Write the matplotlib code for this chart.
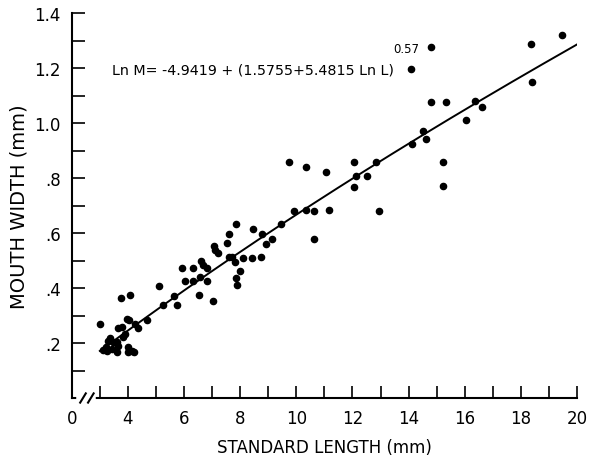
import matplotlib.pyplot as plt
import numpy as np

# standard length (mm) vs mouth width (mm)
length = [3.00, 3.75, 4.07, 3.96, 4.03, 3.64, 3.78, 4.35, 4.25, 4.67,
          3.35, 3.46, 3.60, 3.64, 3.21, 3.10, 3.43, 3.28, 4.00, 4.14,
          4.21, 3.82, 3.89, 3.25, 3.60, 4.00,
          5.10, 5.24, 5.64, 5.74, 5.92, 6.03, 6.31, 6.31, 6.53, 6.60,
          6.67, 6.81, 6.56, 6.81, 7.02, 7.06, 7.10, 7.20, 7.52, 7.60,
          7.60, 7.84, 7.84, 7.88, 7.99, 7.70, 7.81, 8.09, 8.41, 8.74,
          8.45, 8.77, 8.91, 9.13, 9.45, 9.91, 10.34, 10.62, 11.16, 10.62,
          12.94, 9.73, 10.34, 11.05, 12.05, 12.83, 12.12, 12.51, 12.05,
          14.79, 14.08, 18.36, 19.46, 18.39, 14.79, 15.33, 16.36, 16.61,
          16.04, 14.51, 14.62, 14.12, 15.22, 15.22]
width = [0.271, 0.363, 0.374, 0.286, 0.282, 0.256, 0.260, 0.256, 0.271, 0.282,
         0.220, 0.205, 0.205, 0.190, 0.187, 0.176, 0.179, 0.209, 0.187, 0.172,
         0.168, 0.223, 0.234, 0.172, 0.168, 0.168,
         0.407, 0.337, 0.370, 0.337, 0.473, 0.425, 0.473, 0.425, 0.374, 0.498,
         0.484, 0.473, 0.440, 0.425, 0.352, 0.553, 0.538, 0.527, 0.564, 0.597,
         0.513, 0.634, 0.436, 0.410, 0.462, 0.513, 0.495, 0.509, 0.509, 0.513,
         0.615, 0.597, 0.560, 0.579, 0.634, 0.681, 0.685, 0.681, 0.685, 0.579,
         0.681, 0.857, 0.839, 0.821, 0.857, 0.857, 0.806, 0.806, 0.769,
         1.278, 1.198, 1.286, 1.319, 1.150, 1.077, 1.077, 1.081, 1.059,
         1.011, 0.971, 0.941, 0.923, 0.857, 0.773]

# fitted curve: Ln M = a + (b + c Ln L)^p
a, b, c, p = -4.9419, 1.5755, 5.4815, 0.57
L = np.linspace(3, 20, 200)
M = np.exp(a + (b + c * np.log(L)) ** p)

fig = plt.figure(figsize=(5.93, 4.56), dpi=100)
ax = fig.add_axes([0.121, 0.125, 0.852, 0.844])

ax.scatter(length, width, s=20, color="black", zorder=3)
ax.plot(L, M, color="black", lw=1.4)

ax.set_xlim(2, 20)
ax.set_ylim(0, 1.4)
ax.spines["top"].set_visible(False)
ax.spines["right"].set_visible(False)
ax.spines["left"].set_linewidth(1.5)
ax.spines["bottom"].set_linewidth(1.5)

xt = [2] + list(range(3, 21))
ax.set_xticks(xt)
ax.set_xticklabels(["0"] + [str(v) if v % 2 == 0 else "" for v in range(3, 21)])
yt = np.round(np.arange(0.1, 1.41, 0.1), 1)
ylab = []
for v in yt:
    i = int(round(v * 10))
    if i % 2:
        ylab.append("")
    elif v < 1:
        ylab.append("." + str(i))
    else:
        ylab.append(f"{v:.1f}")
ax.set_yticks(yt)
ax.set_yticklabels(ylab)
ax.tick_params(direction="in", length=9, width=1.2, labelsize=12, pad=8)

ax.set_xlabel("STANDARD LENGTH (mm)", fontsize=12, labelpad=8)
ax.set_ylabel("MOUTH WIDTH (mm)", fontsize=14, labelpad=4)

# axis break marks
tr = ax.get_xaxis_transform()
ax.plot([2.25, 2.75], [0, 0], color="white", lw=4, transform=tr, clip_on=False, zorder=4)
for x0 in [2.3, 2.58]:
    ax.plot([x0, x0 + 0.2], [-0.012, 0.012], color="black", lw=1.5,
            transform=tr, clip_on=False, zorder=5)

ax.text(3.43, 1.194, "Ln M= -4.9419 + (1.5755+5.4815 Ln L)", fontsize=10.3, va="center")
ax.text(13.45, 1.27, "0.57", fontsize=8.5, va="center")

fig.savefig("out.png", dpi=100)
